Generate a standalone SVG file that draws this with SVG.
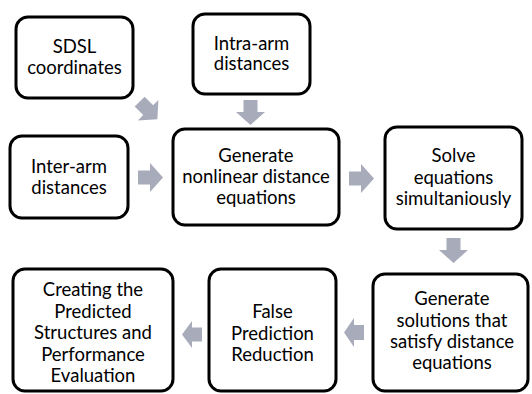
<svg xmlns="http://www.w3.org/2000/svg" xmlns:xlink="http://www.w3.org/1999/xlink" width="532" height="394" viewBox="0 0 532 394">
<style>
.box{fill:#fff;stroke:#000;stroke-width:3}
.t{font-family:Lato,"Open Sans","Liberation Sans",sans-serif;font-size:18.5px;fill:#000;text-anchor:middle}
.arr{fill:#a7abba}
</style>
<defs>
<path id="ra" d="M0,7.5 H12 V0 L25,14.5 L12,29 V21.5 H0 Z"/>
</defs>
<rect width="532" height="394" fill="#fff"/>
<g id="connectors">
<use xlink:href="#ra" class="arr" transform="translate(148.5,110.5) rotate(45) translate(-12.5,-14.5)"/>
<use xlink:href="#ra" class="arr" transform="translate(265,100) rotate(90)"/>
<use xlink:href="#ra" class="arr" transform="translate(138,163)"/>
<use xlink:href="#ra" class="arr" transform="translate(349,164)"/>
<use xlink:href="#ra" class="arr" transform="translate(468,238) rotate(90)"/>
<polygon class="arr" points="344,332.5 354,318 354,325 364,325 364,340 354,340 354,347"/>
<polygon class="arr" points="182,334.5 192,321 192,327.5 202,327.5 202,341.5 192,341.5 192,348"/>
</g>
<g id="sdsl">
<rect class="box" x="16" y="17" width="117" height="81" rx="12"/>
<text class="t" x="74.5" y="53">SDSL</text>
<text class="t" x="74.5" y="74">coordinates</text>
</g>
<g id="intra">
<rect class="box" x="193" y="14" width="117" height="80" rx="12"/>
<text class="t" x="251.5" y="50">Intra-arm</text>
<text class="t" x="251.5" y="70">distances</text>
</g>
<g id="inter">
<rect class="box" x="10" y="136" width="118" height="82" rx="12"/>
<text class="t" x="69" y="173">Inter-arm</text>
<text class="t" x="69" y="194">distances</text>
</g>
<g id="generate">
<rect class="box" x="173" y="129" width="166" height="96" rx="12"/>
<text class="t" x="256" y="162">Generate</text>
<text class="t" x="256" y="183">nonlinear distance</text>
<text class="t" x="256" y="204">equations</text>
</g>
<g id="solve">
<rect class="box" x="385" y="127" width="137" height="102" rx="12"/>
<text class="t" x="453.5" y="162">Solve</text>
<text class="t" x="453.5" y="184">equations</text>
<text class="t" x="453.5" y="205">simultaniously</text>
</g>
<g id="solutions">
<rect class="box" x="373" y="274" width="155" height="117" rx="12"/>
<text class="t" x="452" y="305">Generate</text>
<text class="t" x="452" y="327">solutions that</text>
<text class="t" x="452" y="348">satisfy distance</text>
<text class="t" x="452" y="369">equations</text>
</g>
<g id="false">
<rect class="box" x="209" y="269" width="127" height="122" rx="12"/>
<text class="t" x="272.5" y="318">False</text>
<text class="t" x="272.5" y="340">Prediction</text>
<text class="t" x="272.5" y="361">Reduction</text>
</g>
<g id="creating">
<rect class="box" x="13" y="269" width="160" height="122" rx="12"/>
<text class="t" x="93" y="296">Creating the</text>
<text class="t" x="93" y="318">Predicted</text>
<text class="t" x="93" y="339">Structures and</text>
<text class="t" x="93" y="361">Performance</text>
<text class="t" x="93" y="382">Evaluation</text>
</g>
</svg>
